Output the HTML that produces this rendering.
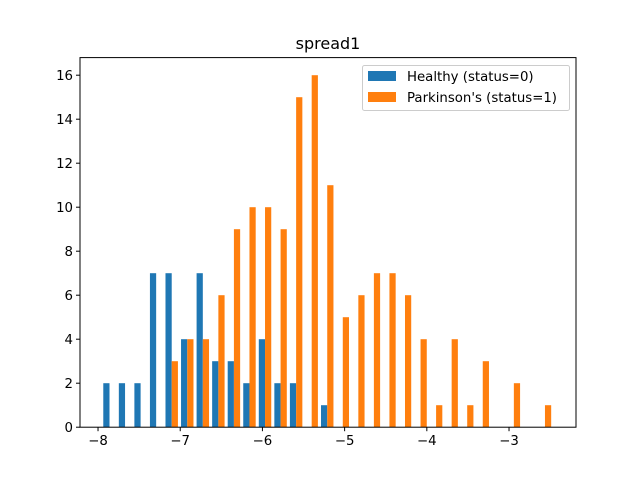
<!DOCTYPE html>
<html><head><meta charset="utf-8"><style>
body{margin:0;background:#fff;}
svg text{font-family:"DejaVu Sans","Liberation Sans",sans-serif;}
</style></head><body>
<svg id="chart" width="640" height="480" viewBox="0 0 640 480" xmlns="http://www.w3.org/2000/svg">
<rect width="640" height="480" fill="#fff"/>
<text x="328" y="49" font-size="16" text-anchor="middle" fill="#000">spread1</text>
<g id="bars"></g>
<g id="axes"></g>
<g>
<rect x="362.5" y="65.5" width="207" height="45" rx="2" fill="#fff" fill-opacity="0.8" stroke="#ccc"/>
<rect x="368" y="71" width="28" height="10" fill="#1f77b4"/>
<text x="407" y="81" font-size="13.3" fill="#000">Healthy (status=0)</text>
<rect x="368" y="92" width="28" height="10" fill="#ff7f0e"/>
<text x="407" y="102" font-size="13.3" fill="#000">Parkinson's (status=1)</text>
</g>
</svg>
<script>
const binStart = -7.955;
const binWidth = 0.1892;
const healthyCounts = [2,2,2,7,7,4,7,3,3,2,4,2,2,0,1,0,0,0,0,0,0,0,0,0,0,0,0,0,0];
const parkinsonCounts = [0,0,0,0,3,4,4,6,9,10,10,9,15,16,11,5,6,7,7,6,4,1,4,1,3,0,2,0,1];
const xTicks = [-8,-7,-6,-5,-4,-3];
const yTicks = [0,2,4,6,8,10,12,14,16];

const L=80,R=576,T=57.6,B=427.2;
const xMin=-8.2193,xMax=-2.1852; // axis limits incl. margins
const yMax=16.8;
const sx=v=>L+(v-xMin)/(xMax-xMin)*(R-L);
const sy=v=>B-v/yMax*(B-T);
const NS="http://www.w3.org/2000/svg";
const bars=document.getElementById('bars');
const axes=document.getElementById('axes');
function mk(tag,attrs,parent){const e=document.createElementNS(NS,tag);for(const k in attrs)e.setAttribute(k,attrs[k]);parent.appendChild(e);return e;}
function drawSeries(counts,offset,color,name){
  counts.forEach((c,i)=>{
    if(c<=0)return;
    const x0=binStart+i*binWidth+offset*binWidth;
    const x1=x0+0.4*binWidth;
    const r=mk('rect',{x:sx(x0),y:sy(c),width:sx(x1)-sx(x0),height:sy(0)-sy(c),fill:color},bars);
    
    
  });
}
drawSeries(healthyCounts,0.1,'#1f77b4','healthy');
drawSeries(parkinsonCounts,0.5,'#ff7f0e','parkinsons');
const frame=mk('rect',{x:L,y:T,width:R-L,height:B-T,fill:'none',stroke:'#000','stroke-width':1},axes);


xTicks.forEach(v=>{
  const x=sx(v);
  const t=mk('line',{x1:x,x2:x,y1:B,y2:B+4,stroke:'#000'},axes);
  
  
  const tx=mk('text',{x:x,y:B+18,'font-size':13.3,'text-anchor':'middle',fill:'#000'},axes);
  tx.textContent=String(v).replace('-','\u2212');
  
  
});
yTicks.forEach(v=>{
  const y=sy(v);
  const t=mk('line',{x1:L-4,x2:L,y1:y,y2:y,stroke:'#000'},axes);
  
  
  const tx=mk('text',{x:L-7,y:y+5,'font-size':13.3,'text-anchor':'end',fill:'#000'},axes);
  tx.textContent=v;
  
  
});
</script>
</body></html>
